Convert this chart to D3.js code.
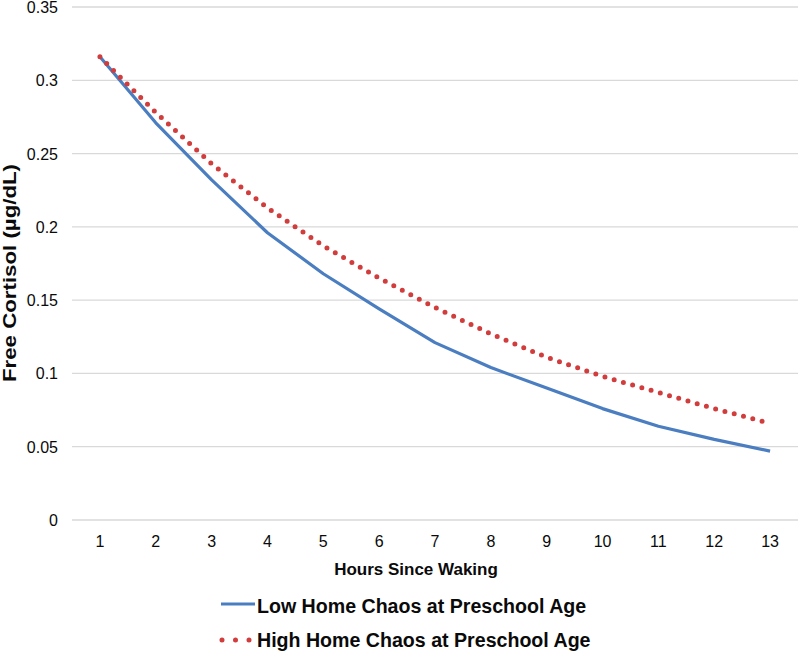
<!DOCTYPE html>
<html>
<head>
<meta charset="utf-8">
<script src="https://cdnjs.cloudflare.com/ajax/libs/d3/7.8.5/d3.min.js"></script>
<style>
  body { margin: 0; background: #fff; }
  svg text { font-family: "Liberation Sans", Arial, sans-serif; fill: #0a0a0a; }
</style>
</head>
<body>
<div id="chart"></div>
<script>
// hours since waking, one category per hour
var hours = [1, 2, 3, 4, 5, 6, 7, 8, 9, 10, 11, 12, 13];
// free cortisol
var lowChaos  = [0.316, 0.271, 0.232, 0.196, 0.168, 0.144, 0.121, 0.104, 0.090, 0.076, 0.064, 0.055, 0.047];
var highChaos = [0.316, 0.278, 0.243, 0.213, 0.187, 0.165, 0.145, 0.127, 0.111, 0.098, 0.087, 0.076, 0.066];
var yTicks = [0, 0.05, 0.1, 0.15, 0.2, 0.25, 0.3, 0.35];
var seriesNames = ["Low Home Chaos at Preschool Age", "High Home Chaos at Preschool Age"];

var width = 800, height = 652;
var margin = {top: 7, left: 72, right: 2, bottom: 132};

var svg = d3.select("#chart").append("svg")
    .attr("width", width)
    .attr("height", height);

var x = d3.scaleBand()
    .domain(hours)
    .range([margin.left, width - margin.right]);

var y = d3.scaleLinear()
    .domain([0, 0.35])
    .range([height - margin.bottom, margin.top]);

var cx = function(h) { return x(h) + x.bandwidth() / 2; };

// gridlines
svg.append("g")
  .selectAll("line")
  .data(yTicks)
  .enter().append("line")
    .attr("x1", margin.left)
    .attr("x2", width - margin.right)
    .attr("y1", d => y(d))
    .attr("y2", d => y(d))
    .attr("stroke", "#d9d9d9")
    .attr("stroke-width", 1.3);

// y tick labels
svg.append("g")
  .selectAll("text")
  .data(yTicks)
  .enter().append("text")
    .attr("x", 58)
    .attr("y", d => y(d) + 6)
    .attr("text-anchor", "end")
    .style("font-size", "16px")
    .text(d => d === 0 ? "0" : d3.format(".2~f")(d));

// x tick labels
svg.append("g")
  .selectAll("text")
  .data(hours)
  .enter().append("text")
    .attr("x", d => cx(d))
    .attr("y", 547)
    .attr("text-anchor", "middle")
    .style("font-size", "16px")
    .text(d => d);

// axis titles
svg.append("text")
    .attr("x", 416)
    .attr("y", 575)
    .attr("text-anchor", "middle")
    .style("font-size", "17px")
    .style("font-weight", "bold")
    .text("Hours Since Waking");

svg.append("text")
    .attr("transform", "translate(16,273) rotate(-90)")
    .attr("text-anchor", "middle")
    .attr("textLength", 218)
    .attr("lengthAdjust", "spacingAndGlyphs")
    .style("font-size", "18px")
    .style("font-weight", "bold")
    .text("Free Cortisol (µg/dL)");

var line = d3.line()
    .x((d, i) => cx(hours[i]))
    .y(d => y(d));

// low chaos: solid blue
svg.append("path")
    .datum(lowChaos)
    .attr("d", line)
    .attr("fill", "none")
    .attr("stroke", "#4a7ec0")
    .attr("stroke-width", 3.2)
    .attr("stroke-linejoin", "round");

// high chaos: round red dots
svg.append("path")
    .datum(highChaos)
    .attr("d", line)
    .attr("fill", "none")
    .attr("stroke", "#d13c3c")
    .attr("stroke-width", 5)
    .attr("stroke-linecap", "round")
    .attr("stroke-dasharray", "0 9.6");

// legend
var legend = svg.append("g");

legend.append("line")
    .attr("x1", 221).attr("x2", 255)
    .attr("y1", 604).attr("y2", 604)
    .attr("stroke", "#4a7ec0")
    .attr("stroke-width", 3.2);

legend.append("line")
    .attr("x1", 222).attr("x2", 250)
    .attr("y1", 640).attr("y2", 640)
    .attr("stroke", "#d13c3c")
    .attr("stroke-width", 5)
    .attr("stroke-linecap", "round")
    .attr("stroke-dasharray", "0 13.5");

legend.selectAll("text")
  .data(seriesNames)
  .enter().append("text")
    .attr("x", 257)
    .attr("y", (d, i) => 613 + i * 34)
    .style("font-size", "19.6px")
    .style("font-weight", "bold")
    .text(d => d);
</script>
</body>
</html>
